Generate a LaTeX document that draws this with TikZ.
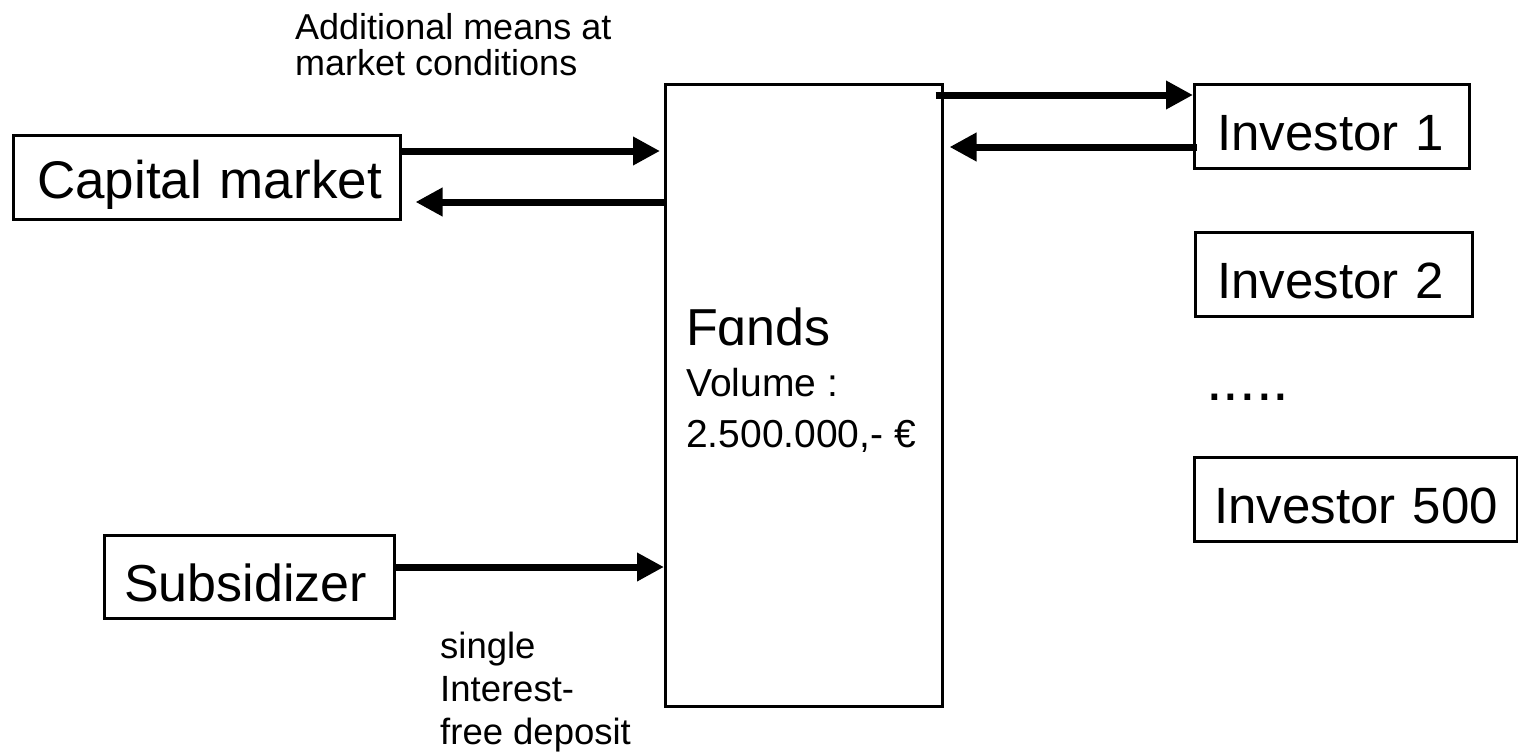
\documentclass[tikz,border=0pt]{standalone}
\usepackage{fontspec}
\setmainfont{Liberation Sans}
\usetikzlibrary{arrows.meta}
\begin{document}
\begin{tikzpicture}[x=1pt,y=-1pt,
  box/.style={draw, line width=2.5pt, anchor=north west, inner ysep=0pt, align=left, font=\fontsize{51}{51}\selectfont},
  arr/.style={line width=7pt, -{Triangle[length=27pt,width=27pt]}},
  lbl/.style={anchor=base west, align=left, inner sep=0pt}]
\useasboundingbox (0,0) rectangle (1518,752);
\node[box, inner xsep=24pt, text width=339pt, text height=63pt, text depth=21pt, font=\fontsize{53}{53}\selectfont] (cap) at (12,134) {\mbox{Capital market}};
\node[box, inner xsep=23pt, text width=229pt, text height=66pt, text depth=18pt] (inv1) at (1193,83) {\mbox{Investor 1}};
\node[box, inner xsep=22pt, text width=233pt, text height=66pt, text depth=18pt] (inv2) at (1194,231) {\mbox{Investor 2}};
\node[box, inner xsep=20pt, text width=283pt, text height=66pt, text depth=18pt] (inv500) at (1193,456) {\mbox{Investor 500}};
\node[box, inner xsep=20pt, text width=250pt, text height=66pt, text depth=17pt, font=\fontsize{52}{52}\selectfont] (sub) at (103,534) {\mbox{Subsidizer}};
\node[draw, line width=2.5pt, anchor=north west, minimum width=277pt, minimum height=622pt, inner sep=0pt] (fonds) at (664,83) {};
\node[lbl, font=\fontsize{39}{51}\selectfont] (fondstxt) at (686,447) {{\fontsize{52}{51}\selectfont Fɑnds}\\Volume :\\2.500.000,- €};
\node[lbl, font=\fontsize{60}{60}\selectfont] (dots) at (1206,400) {.....};
\node[lbl, font=\fontsize{36}{36}\selectfont] (addl) at (295,76) {Additional means at\\market conditions};
\node[lbl, font=\fontsize{36.5}{43}\selectfont] (single) at (440,744) {single\\Interest-\\free deposit};
\draw[arr, shorten >=4pt] (cap.east |- 0,151) -- (fonds.west |- 0,151);
\draw[arr, shorten >=14pt] (fonds.west |- 0,202) -- (cap.east |- 0,202);
\draw[arr, shorten <=-8pt] (fonds.east |- 0,95) -- (inv1.west |- 0,95);
\draw[arr, shorten <=-4pt, shorten >=6pt] (inv1.west |- 0,147) -- (fonds.east |- 0,147);
\draw[arr] (sub.east |- 0,567) -- (fonds.west |- 0,567);
\end{tikzpicture}
\end{document}
